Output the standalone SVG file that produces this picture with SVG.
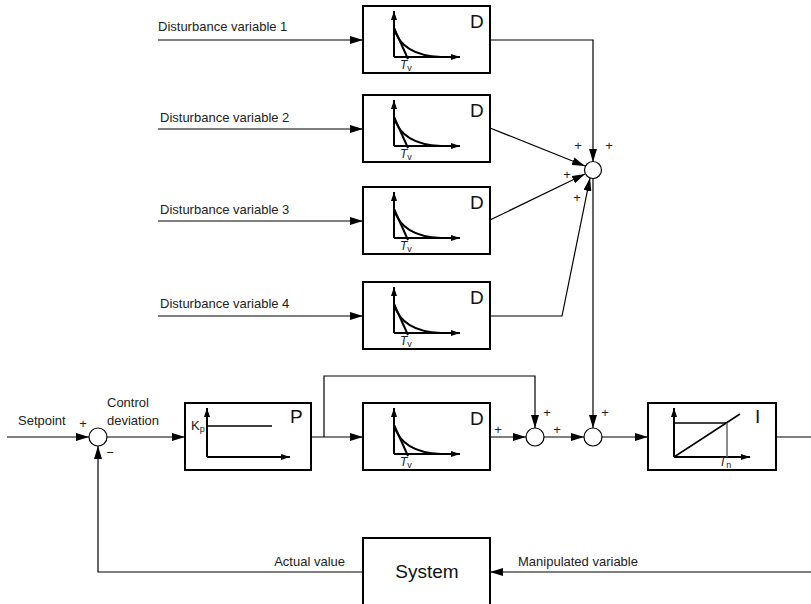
<svg xmlns="http://www.w3.org/2000/svg" xmlns:xlink="http://www.w3.org/1999/xlink" width="811" height="604" viewBox="0 0 811 604">
<style>
.box{fill:#fff;stroke:#000;stroke-width:2}
.ln{fill:none;stroke:#000;stroke-width:1.2}
.ax{fill:none;stroke:#000;stroke-width:2}
.thin{fill:none;stroke:#000;stroke-width:1.5}
.sum{fill:#fff;stroke:#000;stroke-width:1.2}
.t{font-family:"Liberation Sans",Arial,sans-serif;font-size:13px;fill:#222}
.big{font-family:"Liberation Sans",Arial,sans-serif;font-size:19px;fill:#111}
.pl{font-family:"Liberation Sans",Arial,sans-serif;font-size:13px;fill:#222;text-anchor:middle}
.sub{font-family:"Liberation Sans",Arial,sans-serif;font-size:12px;font-style:italic;fill:#222}
</style>
<defs>
<marker id="ar" markerUnits="userSpaceOnUse" markerWidth="13" markerHeight="8" refX="13" refY="4" orient="auto"><path d="M0,0 L13,4 L0,8 z" fill="#000"/></marker>
<marker id="sa" markerUnits="userSpaceOnUse" markerWidth="9" markerHeight="6" refX="9" refY="3" orient="auto"><path d="M0,0 L9,3 L0,6 z" fill="#000"/></marker>
<g id="dg">
<line class="ax" x1="31" y1="51" x2="31" y2="5" marker-end="url(#sa)"/>
<line class="ax" x1="31" y1="51" x2="97" y2="51" marker-end="url(#sa)"/>
<path class="ax" d="M31,22 C36,40 52,50 78,51"/>
<path class="ax" d="M31,22 L45,53"/>
<text class="sub" x="37" y="63">T<tspan font-size="9" font-style="normal" dy="2">v</tspan></text>
<text class="big" x="107" y="22">D</text>
</g>
</defs>

<g id="connectors">
<line class="ln" x1="158" y1="40" x2="363" y2="40" marker-end="url(#ar)"/>
<line class="ln" x1="158" y1="129" x2="363" y2="129" marker-end="url(#ar)"/>
<line class="ln" x1="158" y1="221" x2="363" y2="221" marker-end="url(#ar)"/>
<line class="ln" x1="158" y1="316" x2="363" y2="316" marker-end="url(#ar)"/>
<polyline class="ln" points="490,40 593,40 593,162" marker-end="url(#ar)"/>
<line class="ln" x1="490" y1="128" x2="585" y2="166" marker-end="url(#ar)"/>
<line class="ln" x1="490" y1="220" x2="585" y2="174" marker-end="url(#ar)"/>
<polyline class="ln" points="490,316 562,316 590,178" marker-end="url(#ar)"/>
<line class="ln" x1="593" y1="178" x2="593" y2="428" marker-end="url(#ar)"/>
<line class="ln" x1="7" y1="437" x2="89" y2="437" marker-end="url(#ar)"/>
<line class="ln" x1="107" y1="437" x2="185" y2="437" marker-end="url(#ar)"/>
<line class="ln" x1="311" y1="437" x2="363" y2="437" marker-end="url(#ar)"/>
<polyline class="ln" points="324,437 324,376 535,376 535,428" marker-end="url(#ar)"/>
<line class="ln" x1="490" y1="437" x2="526" y2="437" marker-end="url(#ar)"/>
<line class="ln" x1="544" y1="437" x2="584" y2="437" marker-end="url(#ar)"/>
<line class="ln" x1="602" y1="437" x2="648" y2="437" marker-end="url(#ar)"/>
<line class="ln" x1="776" y1="437" x2="811" y2="437"/>
<line class="ln" x1="811" y1="572" x2="490" y2="572" marker-end="url(#ar)"/>
<polyline class="ln" points="363,572 98,572 98,446" marker-end="url(#ar)"/>
</g>

<g id="labels">
<text class="t" x="158" y="31">Disturbance variable 1</text>
<text class="t" x="160" y="122">Disturbance variable 2</text>
<text class="t" x="160" y="214">Disturbance variable 3</text>
<text class="t" x="160" y="308">Disturbance variable 4</text>
<text class="t" x="18" y="425">Setpoint</text>
<text class="t" x="107" y="407">Control</text>
<text class="t" x="107" y="425">deviation</text>
<text class="pl" x="83" y="428">+</text>
<text class="pl" x="110" y="457">−</text>
<text class="t" x="345" y="566" text-anchor="end">Actual value</text>
<text class="t" x="518" y="566">Manipulated variable</text>
<text class="pl" x="578" y="150">+</text>
<text class="pl" x="609" y="150">+</text>
<text class="pl" x="567" y="179">+</text>
<text class="pl" x="577" y="202">+</text>
<text class="pl" x="498" y="434">+</text>
<text class="pl" x="547" y="417">+</text>
<text class="pl" x="557" y="434">+</text>
<text class="pl" x="605" y="417">+</text>
</g>

<g id="sum-upper"><circle class="sum" cx="593" cy="170" r="8.5"/></g>
<g id="sum-setpoint"><circle class="sum" cx="98" cy="437" r="9"/></g>
<g id="sum-1"><circle class="sum" cx="535" cy="437" r="9"/></g>
<g id="sum-2"><circle class="sum" cx="593" cy="437" r="9"/></g>

<g id="D1"><rect class="box" x="363" y="6" width="127" height="67"/><use xlink:href="#dg" transform="translate(363,6)"/></g>
<g id="D2"><rect class="box" x="363" y="95" width="127" height="67"/><use xlink:href="#dg" transform="translate(363,95)"/></g>
<g id="D3"><rect class="box" x="363" y="187" width="127" height="67"/><use xlink:href="#dg" transform="translate(363,187)"/></g>
<g id="D4"><rect class="box" x="363" y="282" width="127" height="67"/><use xlink:href="#dg" transform="translate(363,282)"/></g>
<g id="D5"><rect class="box" x="363" y="403" width="127" height="67"/><use xlink:href="#dg" transform="translate(363,403)"/></g>

<g id="P">
<rect class="box" x="185" y="403" width="126" height="67"/>
<line class="ax" x1="207" y1="457" x2="207" y2="408" marker-end="url(#sa)"/>
<line class="ax" x1="207" y1="457" x2="290" y2="457" marker-end="url(#sa)"/>
<line class="thin" x1="207" y1="426" x2="272" y2="426"/>
<text class="t" x="191" y="430" font-size="11">K<tspan font-size="9" dy="2">p</tspan></text>
<text class="big" x="290" y="423">P</text>
</g>

<g id="I">
<rect class="box" x="648" y="403" width="128" height="67"/>
<line class="ax" x1="674" y1="457" x2="674" y2="408" marker-end="url(#sa)"/>
<line class="ax" x1="674" y1="457" x2="750" y2="457" marker-end="url(#sa)"/>
<line class="thin" x1="674" y1="457" x2="740" y2="414"/>
<line class="thin" x1="674" y1="423" x2="727" y2="423"/>
<line x1="727" y1="423" x2="727" y2="457" stroke="#666" stroke-width="1.5"/>
<text class="sub" x="719" y="466">T<tspan font-size="9" font-style="normal" dy="2">n</tspan></text>
<text class="big" x="755" y="423">I</text>
</g>

<g id="System">
<rect class="box" x="363" y="538" width="127" height="70"/>
<text class="big" x="427" y="578" text-anchor="middle" font-size="17">System</text>
</g>
</svg>
